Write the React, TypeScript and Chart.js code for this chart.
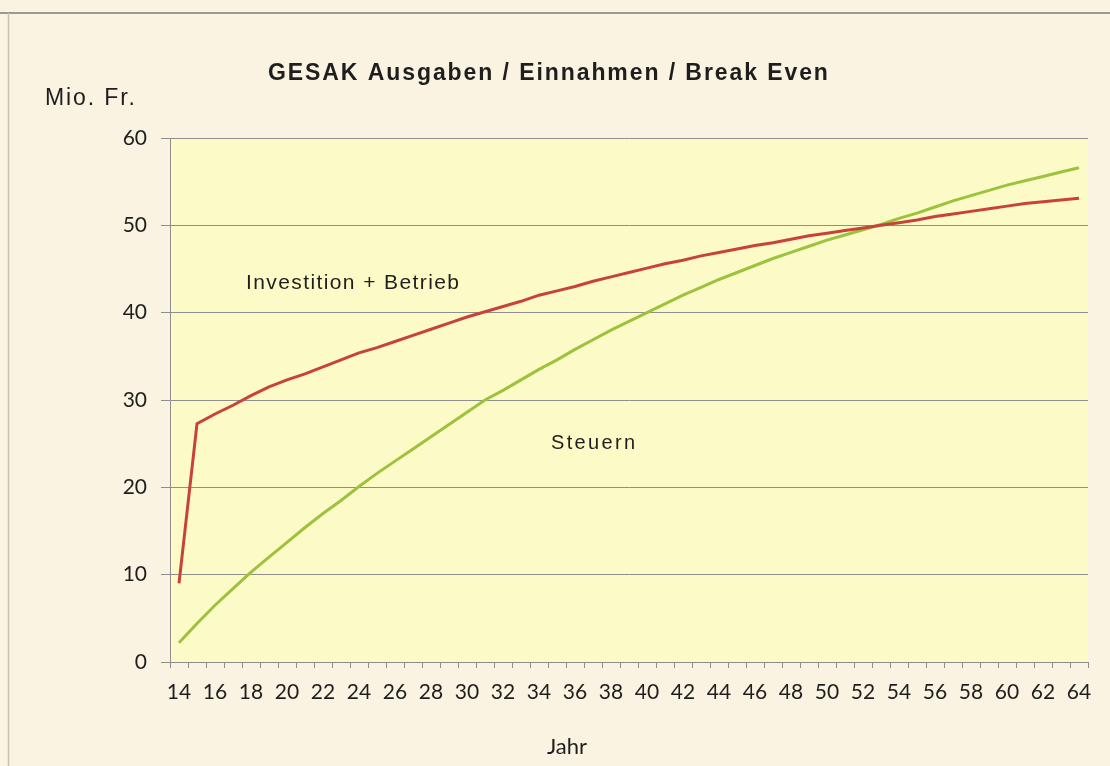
import React, { useEffect, useRef } from "react";
import { Chart, registerables } from "chart.js";

Chart.register(...registerables);

const years: string[] = [
  "14","15","16","17","18","19","20","21","22","23","24","25","26","27","28","29","30","31","32","33","34","35","36","37","38","39",
  "40","41","42","43","44","45","46","47","48","49","50","51","52","53","54","55","56","57","58","59","60","61","62","63","64",
];

const investitionBetrieb: number[] = [
  9.0, 27.3, 28.4, 29.4, 30.5, 31.5, 32.3, 33.0, 33.8, 34.6, 35.4, 36.0, 36.7, 37.4, 38.1, 38.8, 39.5, 40.1, 40.7, 41.3,
  42.0, 42.5, 43.0, 43.6, 44.1, 44.6, 45.1, 45.6, 46.0, 46.5, 46.9, 47.3, 47.7, 48.0, 48.4, 48.8, 49.1, 49.4, 49.7, 50.0,
  50.3, 50.6, 51.0, 51.3, 51.6, 51.9, 52.2, 52.5, 52.7, 52.9, 53.1,
];

const steuern: number[] = [
  2.2, 4.4, 6.5, 8.4, 10.3, 12.0, 13.7, 15.4, 17.0, 18.5, 20.1, 21.6, 23.0, 24.4, 25.8, 27.2, 28.6, 30.0, 31.1, 32.3,
  33.5, 34.6, 35.8, 36.9, 38.0, 39.0, 40.0, 41.0, 42.0, 42.9, 43.8, 44.6, 45.4, 46.2, 46.9, 47.6, 48.3, 48.9, 49.5, 50.1,
  50.8, 51.4, 52.1, 52.8, 53.4, 54.0, 54.6, 55.1, 55.6, 56.1, 56.6,
];

const yTicks: number[] = [0, 10, 20, 30, 40, 50, 60];

const titleText = "GESAK Ausgaben / Einnahmen / Break Even";
const yTitle = "Mio. Fr.";
const xTitle = "Jahr";
const labelInvest = "Investition + Betrieb";
const labelSteuern = "Steuern";

function drawFit(ctx: CanvasRenderingContext2D, text: string, left: number, y: number, width: number, font: string, color: string) {
  ctx.save();
  ctx.font = font;
  (ctx as any).letterSpacing = "0px";
  const w = ctx.measureText(text).width;
  ctx.fillStyle = color;
  ctx.textAlign = "left";
  ctx.textBaseline = "middle";
  if (w > width) {
    ctx.translate(left, y);
    ctx.scale(width / w, 1);
    ctx.fillText(text, 0, 0);
  } else {
    const ls = (width - w) / Math.max(1, text.length - 1);
    (ctx as any).letterSpacing = ls.toFixed(2) + "px";
    ctx.fillText(text, left, y);
  }
  ctx.restore();
}

const decorPlugin = {
  id: "decor",
  beforeDraw(chart: any) {
    const { ctx, chartArea } = chart;
    ctx.save();
    ctx.fillStyle = "#FBF3E1";
    ctx.fillRect(0, 0, chart.width, chart.height);
    ctx.fillStyle = "#FCFBC7";
    ctx.fillRect(chartArea.left, chartArea.top, chartArea.right - chartArea.left, chartArea.bottom - chartArea.top);
    ctx.strokeStyle = "#9A9A92";
    ctx.lineWidth = 2;
    ctx.beginPath();
    ctx.moveTo(0, 13);
    ctx.lineTo(chart.width, 13);
    ctx.stroke();
    ctx.strokeStyle = "#C8C2B4";
    ctx.lineWidth = 1.5;
    ctx.beginPath();
    ctx.moveTo(8.5, 13);
    ctx.lineTo(8.5, chart.height);
    ctx.stroke();
    ctx.restore();
  },
  afterDraw(chart: any) {
    const { ctx } = chart;
    drawFit(ctx, titleText, 268, 74, 560, "bold 23px 'Liberation Sans', Arial, sans-serif", "#1e1e1e");
    drawFit(ctx, yTitle, 45, 99, 90, "23px 'Liberation Sans', Arial, sans-serif", "#1e1e1e");
    drawFit(ctx, labelInvest, 246, 283, 213, "21px 'Liberation Sans', Arial, sans-serif", "#1e1e1e");
    drawFit(ctx, labelSteuern, 551, 443, 84, "20px 'Liberation Sans', Arial, sans-serif", "#1e1e1e");
    ctx.save();
    ctx.font = "22px Lato, 'Open Sans', sans-serif";
    ctx.fillStyle = "#1e1e1e";
    ctx.textAlign = "center";
    ctx.textBaseline = "middle";
    ctx.fillText(xTitle, 567, 747);
    ctx.restore();
  },
};

export default function App() {
  const ref = useRef<HTMLCanvasElement | null>(null);
  useEffect(() => {
    document.body.style.margin = "0";
    const canvas = ref.current!;
    const chart = new Chart(canvas, {
      type: "line",
      data: {
        labels: years,
        datasets: [
          {
            label: labelInvest,
            data: investitionBetrieb,
            borderColor: "#C8423A",
            borderWidth: 3,
            pointRadius: 0,
            tension: 0,
          },
          {
            label: labelSteuern,
            data: steuern,
            borderColor: "#9CC23E",
            borderWidth: 3,
            pointRadius: 0,
            tension: 0,
          },
        ],
      },
      options: {
        animation: false,
        responsive: false,
        layout: { padding: { left: 0, right: 22, top: 138, bottom: 0 } },
        plugins: { legend: { display: false }, tooltip: { enabled: false }, title: { display: false } },
        scales: {
          x: {
            type: "category",
            offset: true,
            afterFit: (s: any) => { s.height = 104; },
            grid: {
              offset: true,
              drawOnChartArea: false,
              drawTicks: true,
              tickLength: 6,
              color: "#8E8E8E",
            },
            border: { display: true, color: "#8E8E8E", width: 1 },
            ticks: {
              autoSkip: false,
              maxRotation: 0,
              padding: 12,
              color: "#1e1e1e",
              font: { family: "Lato, 'Open Sans', sans-serif", size: 21 },
              callback: (_v: any, i: number) => (i % 2 === 0 ? years[i] : ""),
            },
          },
          y: {
            min: 0,
            max: 60,
            afterFit: (s: any) => { s.width = 170; },
            afterBuildTicks: (s: any) => { s.ticks = yTicks.map((v) => ({ value: v })); },
            grid: { color: "#8E8E8E", lineWidth: 1, drawTicks: true, tickLength: 9 },
            border: { display: true, color: "#8E8E8E", width: 1 },
            ticks: {
              padding: 14,
              color: "#1e1e1e",
              font: { family: "Lato, 'Open Sans', sans-serif", size: 21 },
            },
          },
        },
      },
      plugins: [decorPlugin],
    });
    return () => chart.destroy();
  }, []);
  return (
    <div style={{ width: 1110, height: 766 }}>
      <canvas ref={ref} width={1110} height={766} style={{ display: "block" }} />
    </div>
  );
}
